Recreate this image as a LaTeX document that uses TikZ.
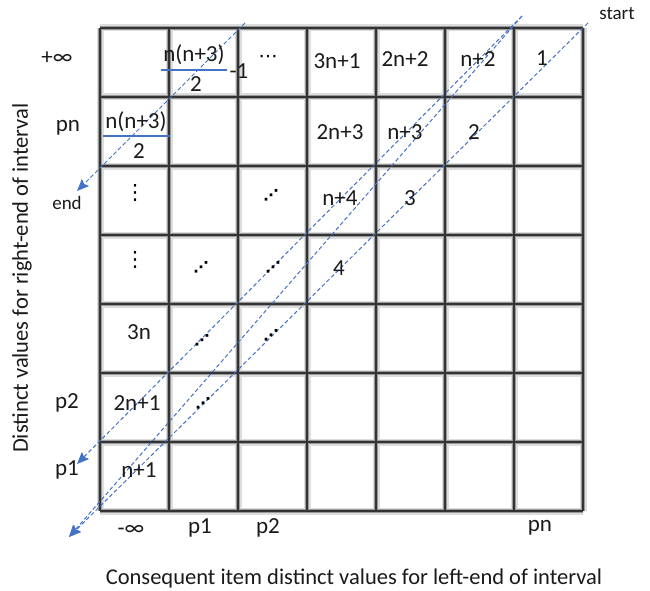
\documentclass[tikz,border=0pt]{standalone}
\usepackage{fontspec}
\setmainfont{Carlito}
\newfontfamily\symfont{DejaVu Sans Bold}
\newfontfamily\symlight{DejaVu Sans}
\usetikzlibrary{arrows.meta}
\definecolor{Ink}{HTML}{1A1A1A}
\definecolor{GridDark}{HTML}{333333}
\definecolor{GridMid}{HTML}{9A9A9A}
\definecolor{GridHalo}{HTML}{DDDDDD}
\definecolor{Cobalt}{HTML}{4472C4}
\tikzset{
  cell/.style={font=\fontsize{23}{26}\selectfont, text=Ink, inner sep=1pt},
  axislabel/.style={font=\fontsize{23}{26}\selectfont, text=Ink, inner sep=1pt},
  axistitle/.style={font=\fontsize{22.5}{26}\selectfont, text=Ink, inner sep=0pt},
  tag/.style={font=\fontsize{19}{22}\selectfont, text=Ink, inner sep=0pt},
  dotsym/.style={font=\symfont\fontsize{15}{18}\selectfont, text=black, inner sep=0pt},
  vdotsym/.style={font=\symlight\fontsize{21}{24}\selectfont, text=black, inner sep=0pt},
  halo/.style={line width=7pt, draw=GridHalo},
  midline/.style={line width=4.5pt, draw=GridMid},
  gridline/.style={line width=2pt, draw=GridDark},
  trace/.style={draw=Cobalt, line width=1pt, dash pattern=on 4pt off 2.5pt,
    -{Stealth[length=12pt,width=10pt,inset=2pt]}},
  fracbar/.style={draw=Cobalt, line width=1.2pt}
}

\begin{document}
\begin{tikzpicture}[x=1pt,y=-1pt]
  \useasboundingbox (0,0) rectangle (650,591);
  % grid of 7x7 cells
  \foreach \s in {halo,midline,gridline} {
    \foreach \k in {0,...,7} {
      \draw[\s] ({100+69*\k},28) -- ({100+69*\k},511);
      \draw[\s] (100,{28+69*\k}) -- (583,{28+69*\k});
    }
  }

  % traversal lines
  \coordinate (aTop) at (245,23);
  \coordinate (endTip) at (77,191);
  \coordinate (bTop) at (522,16);
  \coordinate (p1Tip) at (77,464);
  \coordinate (startTop) at (588,23);
  \coordinate (lowTip) at (69,537);
  \draw[trace] (aTop) -- (endTip);
  \draw[trace] (bTop) -- (p1Tip);
  \draw[trace] (bTop) -- (lowTip);
  \draw[trace] (startTop) -- (lowTip);
  \node[tag] (startLbl) at (617,14) {start};
  \node[tag] (endLbl) at (67,203) {end};

  % row labels
  \node[axislabel] (rInf) at (57,58) {+∞};
  \node[axislabel] (rPn) at (68,128) {pn};
  \node[axislabel] (rP2) at (67,403) {p2};
  \node[axislabel] (rP1) at (67,470) {p1};
  % column labels
  \node[axislabel] (cInf) at (131,530) {-∞};
  \node[axislabel] (cP1) at (200,528) {p1};
  \node[axislabel] (cP2) at (268,528) {p2};
  \node[axislabel] (cPn) at (540,528) {pn};

  % top row
  \node[cell] (fracTopNum) at (194,55) {n(n+3)};
  \coordinate (fracTopL) at (161,70);
  \coordinate (fracTopR) at (227,70);
  \draw[fracbar] (fracTopL) -- (fracTopR);
  \node[cell] (fracTopDen) at (196,84) {2};
  \node[cell] (fracTopMinus) at (239,71) {-1};
  \node[vdotsym,font=\symlight\fontsize{19}{22}\selectfont] (topDots) at (268,59) {⋯};
  \node[cell] (v30) at (337,61) {3n+1};
  \node[cell] (v40) at (405,59) {2n+2};
  \node[cell] (v50) at (478,59) {n+2};
  \node[cell] (v60) at (542,58) {1};
  % row pn
  \node[cell] (fracPnNum) at (136,122) {n(n+3)};
  \coordinate (fracPnL) at (103,136);
  \coordinate (fracPnR) at (170,136);
  \draw[fracbar] (fracPnL) -- (fracPnR);
  \node[cell] (fracPnDen) at (139,151) {2};
  \node[cell] (v31) at (340,132) {2n+3};
  \node[cell] (v41) at (405,132) {n+3};
  \node[cell] (v51) at (474,132) {2};
  % middle rows
  \node[vdotsym] (d02) at (135,193) {⋮};
  \node[dotsym] (d22) at (271,195) {⋰};
  \node[cell] (v32) at (340,198) {n+4};
  \node[cell] (v42) at (410,198) {3};
  \node[vdotsym] (d03) at (135,260) {⋮};
  \node[dotsym] (d13) at (201,267) {⋰};
  \node[dotsym] (d23) at (273,267) {⋰};
  \node[cell] (v33) at (339,268) {4};
  \node[cell] (v04) at (139,332) {3n};
  \node[dotsym] (d14) at (202,340) {⋰};
  \node[dotsym] (d24) at (271,335) {⋰};
  \node[cell] (v05) at (137,403) {2n+1};
  \node[dotsym] (d15) at (203,403) {⋰};
  \node[cell] (v06) at (139,470) {n+1};

  % axis titles
  \node[axistitle] (xTitle) at (354,578) {Consequent item distinct values for left-end of interval};
  \node[axistitle,rotate=90] (yTitle) at (22,278) {Distinct values for right-end of interval};
\end{tikzpicture}
\end{document}
